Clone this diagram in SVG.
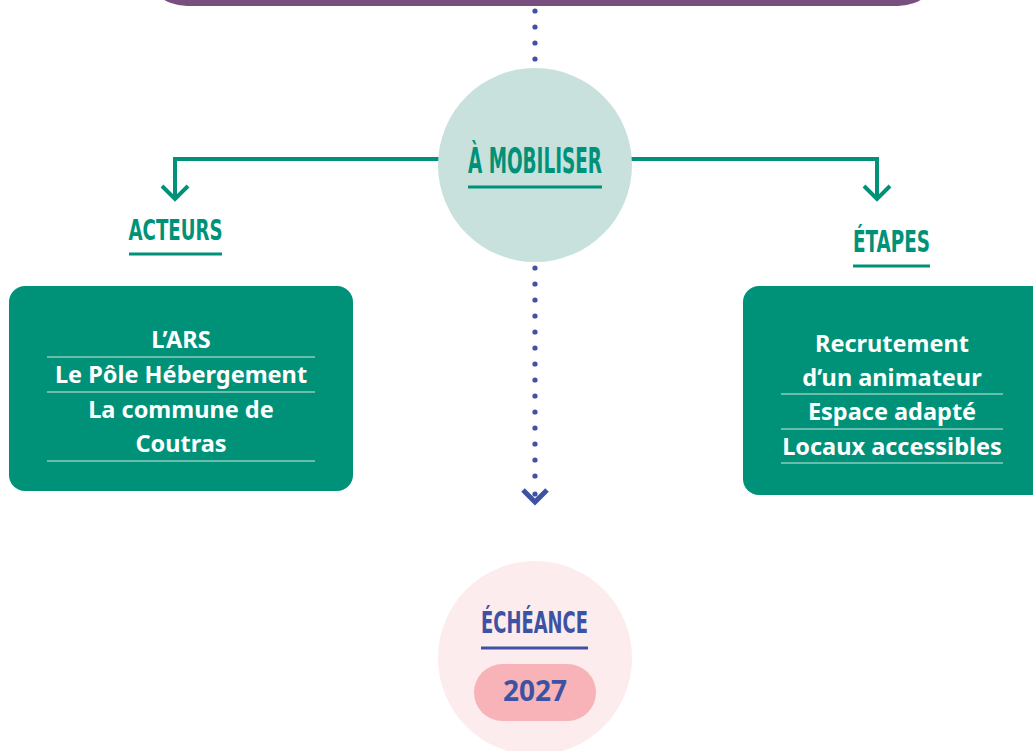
<svg xmlns="http://www.w3.org/2000/svg" width="1033" height="751" viewBox="0 0 1033 751">
<defs>
<style>
.head{font-family:"DejaVu Sans Condensed","DejaVu Sans",sans-serif;font-weight:700;text-anchor:middle}
.green{fill:#009279}
.blue{fill:#3e52a3}
.item{font-family:"Noto Sans","Open Sans",sans-serif;font-weight:700;font-size:23.5px;fill:#ffffff;text-anchor:middle}
.sep{stroke:#cfe8e2;stroke-width:1.2}
.gline{fill:none;stroke:#009279;stroke-width:4}
.dot{fill:#3e52a3}
</style>
</defs>
<rect width="1033" height="751" fill="#ffffff"/>
<g id="top-banner">
<rect x="145" y="-70" width="795" height="76" rx="42" fill="#77507f"/>
</g>
<g id="connectors">
<g class="dot">
<circle cx="535" cy="11" r="2.6"/><circle cx="535" cy="27" r="2.6"/><circle cx="535" cy="43" r="2.6"/><circle cx="535" cy="59" r="2.6"/>
<circle cx="535" cy="268" r="2.6"/><circle cx="535" cy="284" r="2.6"/><circle cx="535" cy="300" r="2.6"/><circle cx="535" cy="316" r="2.6"/>
<circle cx="535" cy="332" r="2.6"/><circle cx="535" cy="348" r="2.6"/><circle cx="535" cy="364" r="2.6"/><circle cx="535" cy="380" r="2.6"/>
<circle cx="535" cy="396" r="2.6"/><circle cx="535" cy="412" r="2.6"/><circle cx="535" cy="428" r="2.6"/><circle cx="535" cy="444" r="2.6"/>
<circle cx="535" cy="460" r="2.6"/><circle cx="535" cy="476" r="2.6"/><circle cx="535" cy="494" r="2.6"/>
</g>
<path d="M523 490 L535 502 L547 490" fill="none" stroke="#3e52a3" stroke-width="5"/>
<path class="gline" d="M440 159 H175 V198"/>
<path class="gline" d="M162 186 L175 199 L188 186"/>
<path class="gline" d="M630 159 H877 V198"/>
<path class="gline" d="M864 186 L877 199 L890 186"/>
</g>
<g id="mobiliser">
<circle cx="535" cy="165" r="97" fill="#c8e1dd"/>
<text class="head green" x="535" y="173" font-size="35" textLength="134" lengthAdjust="spacingAndGlyphs">À MOBILISER</text>
<rect x="468" y="185.5" width="134" height="3" class="green"/>
</g>
<g id="acteurs-label">
<text class="head green" x="175.5" y="240" font-size="29" textLength="94" lengthAdjust="spacingAndGlyphs">ACTEURS</text>
<rect x="129" y="252.5" width="93" height="3" class="green"/>
</g>
<g id="etapes-label">
<text class="head green" x="891.5" y="252" font-size="30" textLength="77" lengthAdjust="spacingAndGlyphs">ÉTAPES</text>
<rect x="853" y="264.5" width="77" height="3" class="green"/>
</g>
<g id="acteurs-box">
<rect x="9" y="286" width="344" height="205" rx="16" fill="#009279"/>
<text class="item" x="181" y="348">L’ARS</text>
<line class="sep" x1="47" y1="357" x2="315" y2="357"/>
<text class="item" x="181" y="383">Le Pôle Hébergement</text>
<line class="sep" x1="47" y1="392" x2="315" y2="392"/>
<text class="item" x="181" y="418">La commune de</text>
<text class="item" x="181" y="452">Coutras</text>
<line class="sep" x1="47" y1="461" x2="315" y2="461"/>
</g>
<g id="etapes-box">
<rect x="743" y="286" width="310" height="209" rx="16" fill="#009279"/>
<text class="item" x="892" y="352">Recrutement</text>
<text class="item" x="892" y="386">d’un animateur</text>
<line class="sep" x1="781" y1="394" x2="1003" y2="394"/>
<text class="item" x="892" y="420">Espace adapté</text>
<line class="sep" x1="781" y1="429" x2="1003" y2="429"/>
<text class="item" x="892" y="455">Locaux accessibles</text>
<line class="sep" x1="781" y1="463" x2="1003" y2="463"/>
</g>
<g id="echeance">
<circle cx="535" cy="658" r="97" fill="#fcecee"/>
<text class="head blue" x="534.5" y="633" font-size="30" textLength="107" lengthAdjust="spacingAndGlyphs">ÉCHÉANCE</text>
<rect x="481" y="646.5" width="107" height="3" class="blue"/>
<rect x="474" y="664" width="122" height="57" rx="28.5" fill="#f7b3b7"/>
<text x="535" y="701" font-family="Noto Sans, Open Sans, sans-serif" font-weight="700" font-size="28" text-anchor="middle" class="blue">2027</text>
</g>
</svg>
